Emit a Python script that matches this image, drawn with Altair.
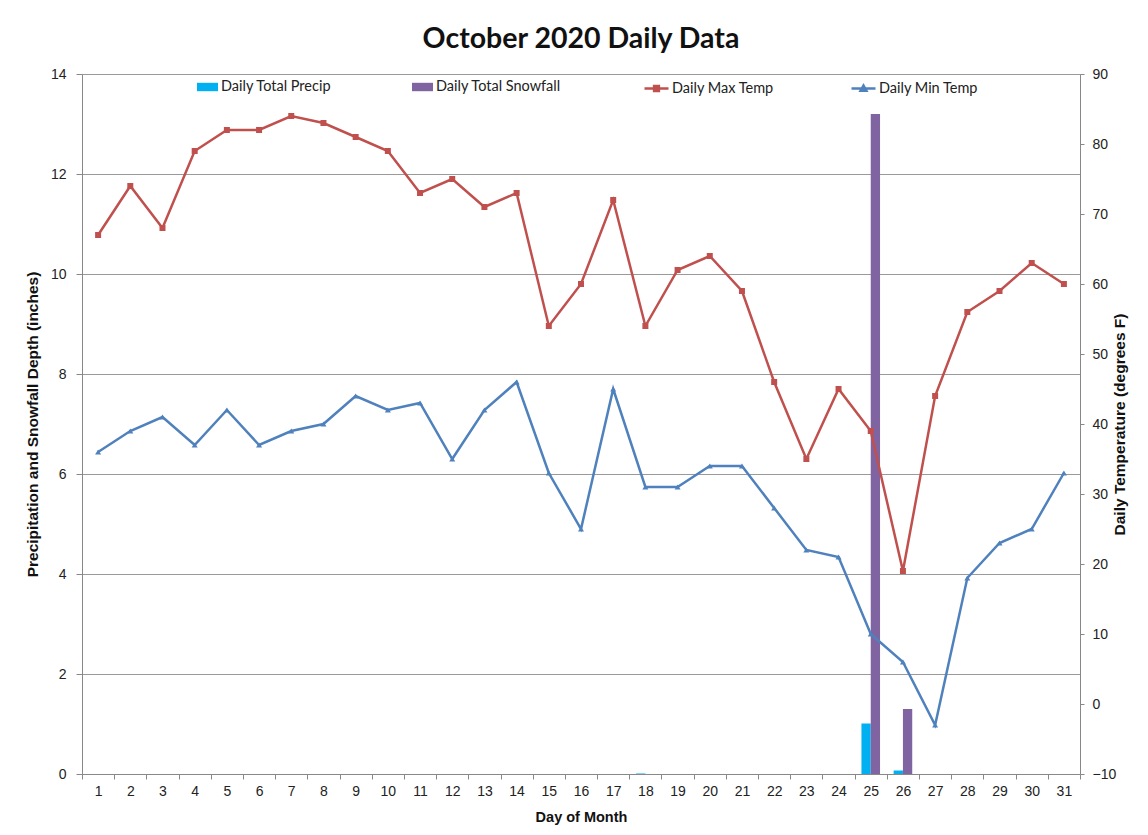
import altair as alt
import pandas as pd

days = list(range(1, 32))
max_temp = [67, 74, 68, 79, 82, 82, 84, 83, 81, 79, 73, 75, 71, 73, 54, 60,
            72, 54, 62, 64, 59, 46, 35, 45, 39, 19, 44, 56, 59, 63, 60]
min_temp = [36, 39, 41, 37, 42, 37, 39, 40, 44, 42, 43, 35, 42, 46, 33, 25,
            45, 31, 31, 34, 34, 28, 22, 21, 10, 6, -3, 18, 23, 25, 33]
precip = [0, 0, 0, 0, 0, 0, 0, 0, 0, 0, 0, 0, 0, 0, 0, 0,
          0, 0.01, 0, 0, 0, 0, 0, 0, 1.01, 0.07, 0, 0, 0, 0, 0]
snowfall = [0, 0, 0, 0, 0, 0, 0, 0, 0, 0, 0, 0, 0, 0, 0, 0,
            0, 0, 0, 0, 0, 0, 0, 0, 13.2, 1.3, 0, 0, 0, 0, 0]

bar_series = ["Daily Total Precip", "Daily Total Snowfall"]
line_series = ["Daily Max Temp", "Daily Min Temp"]
bar_colors = ["#00B0F0", "#8064A2"]
line_colors = ["#C0504D", "#4F81BD"]

FONT = "Lato"
TXT = "#222222"

bar_df = pd.DataFrame({
    "day": days * 2,
    "series": [bar_series[0]] * 31 + [bar_series[1]] * 31,
    "value": precip + snowfall,
})
temp_df = pd.DataFrame({"day": days, "tmax": max_temp, "tmin": min_temp})

x_enc = alt.X(
    "day:O",
    title="Day of Month",
    scale=alt.Scale(paddingInner=0, paddingOuter=0),
    axis=alt.Axis(labelAngle=0, tickBand="extent", tickSize=5, labelPadding=5,
                  titlePadding=12, labelFontSize=14, titleFontSize=14.5,
                  titleFontWeight="bold", domainColor="#888", tickColor="#888",
                  labelColor=TXT, titleColor="#111"),
)

bars = alt.Chart(bar_df).mark_bar().encode(
    x=x_enc,
    xOffset=alt.XOffset("series:N",
                        scale=alt.Scale(domain=bar_series, paddingInner=0, paddingOuter=0.73)),
    y=alt.Y("value:Q",
            title="Precipitation and Snowfall Depth (inches)",
            scale=alt.Scale(domain=[0, 14], nice=False),
            axis=alt.Axis(values=[0, 2, 4, 6, 8, 10, 12, 14], grid=True,
                          gridColor="#9a9a9a", gridWidth=1.2, tickSize=6,
                          labelFontSize=14, titleFontSize=15.5, titleFontWeight="bold",
                          labelPadding=10, titlePadding=10,
                          domainColor="#888", tickColor="#888",
                          labelColor=TXT, titleColor="#111")),
    color=alt.Color("series:N",
                    scale=alt.Scale(domain=bar_series, range=bar_colors),
                    legend=alt.Legend(title=None, orient="none", direction="horizontal",
                                      legendX=115, legendY=2.5,
                                      symbolType="M-1,-0.4H1V0.4H-1Z", symbolSize=441,
                                      symbolStrokeWidth=0,
                                      labelFontSize=14.5, labelFont=FONT, labelColor=TXT,
                                      labelOffset=3, columnPadding=80)),
)

y_temp_axis = alt.Axis(orient="right", values=list(range(-10, 91, 10)), grid=False,
                       tickSize=4, labelFontSize=14, titleFontSize=15.5,
                       titleFontWeight="bold", labelPadding=8, titlePadding=12,
                       titleAngle=270, domainColor="#888", tickColor="#888",
                       labelColor=TXT, titleColor="#111")
y_temp_scale = alt.Scale(domain=[-10, 90], nice=False)

max_line = alt.Chart(temp_df).mark_line(
    color=line_colors[0], strokeWidth=2.5,
    point=alt.OverlayMarkDef(shape="square", size=36, filled=True, color=line_colors[0]),
).encode(
    x=alt.X("day:O"),
    y=alt.Y("tmax:Q", title="Daily Temperature (degrees F)", scale=y_temp_scale, axis=y_temp_axis),
)
min_line = alt.Chart(temp_df).mark_line(
    color=line_colors[1], strokeWidth=2.5,
    point=alt.OverlayMarkDef(shape="triangle-up", size=36, filled=True, color=line_colors[1]),
).encode(
    x=alt.X("day:O"),
    y=alt.Y("tmin:Q", title="Daily Temperature (degrees F)", scale=y_temp_scale, axis=y_temp_axis),
)

legend_paths = ["M-1,0H1M-0.2,-0.2H0.2V0.2H-0.2Z",
                "M-1,0H1M-0.24,0.18L0,-0.24L0.24,0.18Z"]
legend_x = [561, 768]


def legend_only(i):
    lg = alt.Legend(title=None, orient="none", direction="horizontal",
                    legendX=legend_x[i], legendY=1, symbolSize=576,
                    symbolStrokeWidth=2.5,
                    labelFontSize=14.5, labelFont=FONT, labelColor=TXT, labelOffset=2)
    return alt.Chart(temp_df).transform_calculate(lg="'x'").transform_filter(
        "false").mark_point(filled=False, color=line_colors[i], strokeWidth=2.5,
                            opacity=1).encode(
        shape=alt.Shape("lg:N", scale=alt.Scale(domain=[line_series[i]],
                                                range=[legend_paths[i]]), legend=lg),
    )


temps = alt.layer(max_line, min_line, legend_only(0), legend_only(1)).resolve_scale(
    shape="independent")

chart = alt.layer(bars, temps).resolve_scale(
    y="independent", color="independent"
).properties(
    width=998, height=700,
    title=alt.TitleParams("October 2020 Daily Data", fontSize=28.5, font=FONT,
                          fontWeight="bold", color="#111", offset=14),
    autosize=alt.AutoSizeParams(type="none"),
    padding={"left": 74, "top": 66, "right": 60, "bottom": 52},
).configure_view(stroke=None).configure_axis(
    labelFont=FONT, titleFont=FONT
).configure(background="white")

chart.save("out.html", embed_options={"renderer": "svg", "actions": False})
